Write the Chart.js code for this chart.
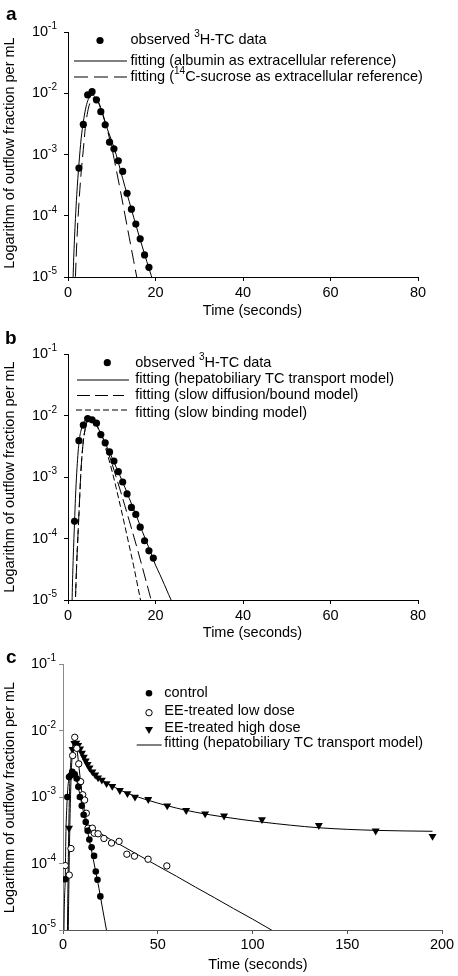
<!DOCTYPE html>
<html><head><meta charset="utf-8">
<script src="https://cdn.jsdelivr.net/npm/chart.js@4.4.0/dist/chart.umd.min.js"></script>
<style>
html,body{margin:0;padding:0;background:#fff;width:458px;height:976px;overflow:hidden}
canvas{position:absolute;left:0}
</style></head><body>
<canvas id="ca" width="458" height="320" style="top:0px"></canvas>
<canvas id="cb" width="458" height="320" style="top:320px"></canvas>
<canvas id="cc" width="458" height="336" style="top:640px"></canvas>
<script>
const FONT = "'Liberation Sans', Arial, Helvetica, sans-serif";
const TXT = 14.5;

// ---------- shared axes ----------
const xTicksAB = [0, 20, 40, 60, 80];
const xTicksC = [0, 50, 100, 150, 200];
const yTicks = [1e-5, 1e-4, 1e-3, 1e-2, 1e-1];
const yTickBase = '10';
const yTickExps = ['-5', '-4', '-3', '-2', '-1'];
const xTitle = 'Time (seconds)';
const yTitle = 'Logarithm of outflow fraction per mL';

// ---------- panel a ----------
const obsTimeA = [2.5, 3.5, 4.5, 5.5, 6.5, 7.5, 8.5, 9.5, 10.5, 11.5, 12.5, 13.5, 14.5, 15.5, 16.5, 17.5, 18.5];
const obsValA = [6.0e-4, 3.1e-3, 9.4e-3, 1.06e-2, 7.8e-3, 5.0e-3, 3.05e-3, 1.59e-3, 1.24e-3, 7.9e-4, 5.3e-4, 2.33e-4, 1.28e-4, 7.3e-5, 4.2e-5, 2.29e-5, 1.44e-5];
const fitTimeA = [1.0, 1.2, 1.5, 1.7, 2.0, 2.5, 3.0, 3.5, 4.0, 4.5, 5.0, 5.5, 6.0, 6.5, 7.0, 7.5, 8.0, 8.5, 9, 10, 11, 12, 13, 14, 15, 16, 17, 18, 19, 20];
const fitAlbuminA = [3e-6, 1.2e-5, 4.5e-5, 9e-5, 2.2e-4, 7e-4, 1.8e-3, 3.4e-3, 5.5e-3, 7.5e-3, 8.8e-3, 9.3e-3, 9.0e-3, 8.2e-3, 6.9e-3, 5.5e-3, 4.3e-3, 3.3e-3, 2.6e-3, 1.66e-3, 1.0e-3, 5.5e-4, 3.0e-4, 1.7e-4, 9.5e-5, 5.4e-5, 3.1e-5, 1.8e-5, 1.07e-5, 6.3e-6];
const fitSucroseA = [5e-7, 1e-6, 4e-6, 1e-5, 3.5e-5, 1.6e-4, 5.0e-4, 1.2e-3, 2.9e-3, 5.0e-3, 6.9e-3, 8.1e-3, 8.5e-3, 8.1e-3, 7.1e-3, 5.8e-3, 4.5e-3, 3.4e-3, 2.5e-3, 1.3e-3, 5.8e-4, 2.5e-4, 1.05e-4, 4.4e-5, 1.85e-5, 7.8e-6, 3.2e-6, 1.3e-6, 5e-7, 2e-7];

// ---------- panel b ----------
const obsTimeB = [1.5, 2.5, 3.5, 4.5, 5.5, 6.5, 7.5, 8.5, 9.5, 10.5, 11.5, 12.5, 13.5, 14.5, 15.5, 16.5, 17.5, 18.5, 19.5];
const obsValB = [1.9e-4, 3.9e-3, 7.0e-3, 8.9e-3, 8.5e-3, 7.5e-3, 4.9e-3, 3.6e-3, 2.56e-3, 1.82e-3, 1.22e-3, 8.3e-4, 5.3e-4, 3.2e-4, 2.46e-4, 1.53e-4, 9.2e-5, 6.3e-5, 4.8e-5];
const fitTimeB = [0.8, 1.0, 1.2, 1.5, 1.7, 2.0, 2.5, 3.0, 3.5, 4.0, 4.5, 5.0, 5.5, 6.0, 6.5, 7.0, 7.5, 8, 9, 10, 11, 12, 13, 14, 15, 16, 17, 18, 19, 20, 21, 22, 23, 24];
const fitTransportB = [3e-6, 1.6e-5, 5e-5, 1.9e-4, 4.5e-4, 1.2e-3, 3.6e-3, 5.8e-3, 7.4e-3, 8.5e-3, 9.0e-3, 9.0e-3, 8.6e-3, 7.9e-3, 7.0e-3, 6.0e-3, 5.1e-3, 4.3e-3, 3.0e-3, 2.1e-3, 1.45e-3, 1.0e-3, 6.8e-4, 4.5e-4, 3.0e-4, 2.0e-4, 1.3e-4, 8.6e-5, 5.7e-5, 3.7e-5, 2.6e-5, 1.8e-5, 1.23e-5, 8.5e-6];
const fitDiffusionB = [1e-7, 2e-7, 6e-7, 3e-6, 1e-5, 4e-5, 2.5e-4, 1.4e-3, 3.8e-3, 6.4e-3, 8.3e-3, 9.1e-3, 9.0e-3, 8.4e-3, 7.4e-3, 6.3e-3, 5.2e-3, 4.2e-3, 2.7e-3, 1.7e-3, 1.0e-3, 5.9e-4, 3.4e-4, 1.95e-4, 1.1e-4, 6.2e-5, 3.4e-5, 1.85e-5, 1.0e-5, 5.4e-6, 2.9e-6, 1.5e-6, 8e-7, 4e-7];
const fitBindingB = [1e-7, 2e-7, 6e-7, 3e-6, 1e-5, 4e-5, 2.5e-4, 1.4e-3, 3.8e-3, 6.4e-3, 8.3e-3, 9.0e-3, 8.8e-3, 8.1e-3, 7.1e-3, 6.0e-3, 4.9e-3, 3.9e-3, 2.35e-3, 1.3e-3, 6.7e-4, 3.3e-4, 1.6e-4, 7.6e-5, 3.6e-5, 1.6e-5, 7e-6, 3e-6, 1.3e-6, 6e-7, 3e-7, 1.5e-7, 7e-8, 3e-8];

// ---------- panel c ----------
const controlTime = [1.2, 2.3, 3.2, 4.0, 4.9, 6.2, 7.2, 8.1, 8.9, 9.9, 10.9, 12, 13, 13.9, 15.1, 16.4, 17.3, 18.2, 19.7];
const controlVal = [5.8e-5, 1.0e-3, 2.0e-3, 2.1e-3, 2.4e-3, 2.2e-3, 1.9e-3, 1.42e-3, 1.0e-3, 7.4e-4, 5.4e-4, 4.2e-4, 3.1e-4, 2.3e-4, 1.75e-4, 1.3e-4, 7.6e-5, 5.7e-5, 3.2e-5];
const lowTime = [1.2, 3.3, 4.2, 5.1, 6.2, 7.3, 8.3, 9.3, 10.4, 11.4, 12.3, 13.2, 14.5, 15.5, 16.5, 18.5, 21.6, 25.6, 29.6, 33.7, 37.7, 44.9, 54.8];
const lowVal = [9.3e-5, 6.7e-5, 1.68e-4, 4.2e-3, 7.9e-3, 5.4e-3, 3.15e-3, 1.7e-3, 1.08e-3, 9.0e-4, 5.7e-4, 3.4e-4, 3.2e-4, 3.4e-4, 2.85e-4, 2.8e-4, 2.38e-4, 2.03e-4, 2.15e-4, 1.38e-4, 1.29e-4, 1.16e-4, 9.2e-5];
const highTime = [3.2, 5, 6, 7, 8, 9, 10, 11, 12, 13, 14, 15.5, 17, 18.5, 20.5, 23, 26, 30, 34, 38, 45, 55, 65, 75, 85, 105, 135, 165, 195];
const highVal = [3.4e-4, 5.2e-3, 6.4e-3, 6.5e-3, 6.0e-3, 5.3e-3, 4.6e-3, 4.0e-3, 3.5e-3, 3.1e-3, 2.75e-3, 2.4e-3, 2.15e-3, 1.95e-3, 1.8e-3, 1.6e-3, 1.45e-3, 1.26e-3, 1.13e-3, 1.0e-3, 9.2e-4, 7.4e-4, 6.3e-4, 5.6e-4, 5.2e-4, 4.6e-4, 3.75e-4, 3.1e-4, 2.57e-4];
const fitControlTime = [0.3, 0.5, 0.8, 1.2, 1.5, 2.0, 2.5, 3, 4, 5, 6, 7, 8, 9, 10, 11, 12, 13, 14, 15, 16, 17, 18, 19, 20, 21, 22, 23, 24];
const fitControlVal = [2e-6, 1e-5, 3e-5, 6e-5, 2.5e-4, 7e-4, 1.3e-3, 1.8e-3, 2.3e-3, 2.4e-3, 2.2e-3, 1.85e-3, 1.42e-3, 1.05e-3, 7.6e-4, 5.6e-4, 4.1e-4, 3.0e-4, 2.2e-4, 1.6e-4, 1.15e-4, 8.2e-5, 5.9e-5, 4.2e-5, 2.9e-5, 2.0e-5, 1.4e-5, 9.7e-6, 6.8e-6];
const fitLowTime = [2.5, 2.8, 3.0, 3.5, 4, 4.5, 5, 5.5, 6, 6.5, 7, 7.5, 8, 9, 10, 11, 12, 13, 14, 15, 16, 20, 25, 30, 40, 50, 60, 70, 80, 90, 100, 110, 115];
const fitLowVal = [1e-6, 1e-5, 3e-5, 2.5e-4, 1.1e-3, 2.8e-3, 4.8e-3, 6.5e-3, 7.4e-3, 7.1e-3, 6.1e-3, 4.9e-3, 3.7e-3, 2.0e-3, 1.15e-3, 7.2e-4, 5.0e-4, 3.9e-4, 3.4e-4, 3.25e-4, 3.15e-4, 2.8e-4, 2.3e-4, 1.93e-4, 1.33e-4, 9.2e-5, 6.4e-5, 4.4e-5, 3.05e-5, 2.1e-5, 1.46e-5, 1.0e-5, 8.3e-6];
const fitHighTime = [2.0, 2.5, 3.0, 3.5, 4, 5, 6, 7, 8, 9, 10, 12, 14, 16, 18, 20, 25, 30, 35, 40, 50, 60, 70, 85, 105, 135, 165, 195];
const fitHighVal = [1e-6, 2.5e-5, 2.8e-4, 1.4e-3, 3.0e-3, 5.5e-3, 6.5e-3, 6.4e-3, 5.9e-3, 5.2e-3, 4.6e-3, 3.6e-3, 2.8e-3, 2.3e-3, 2.0e-3, 1.83e-3, 1.52e-3, 1.28e-3, 1.11e-3, 9.9e-4, 8.1e-4, 6.8e-4, 5.9e-4, 5.0e-4, 4.2e-4, 3.45e-4, 3.15e-4, 3.05e-4];

// ---------- helpers ----------
const pts = (xs, ys) => xs.map((x, i) => ({x: x, y: ys[i]}));
function lineDs(xs, ys, dash) {
  return {type: 'line', data: pts(xs, ys), borderColor: '#000', borderWidth: 1, borderDash: dash || [],
    pointRadius: 0, fill: false, cubicInterpolationMode: 'monotone', order: 2};
}
function markDs(xs, ys, style) {
  return {type: 'line', data: pts(xs, ys), showLine: false, order: 1,
    pointRadius: style.r, pointHoverRadius: style.r, pointStyle: style.shape || 'circle',
    pointRotation: style.rot || 0, pointBackgroundColor: style.fill, pointBorderColor: '#000',
    pointBorderWidth: style.bw || 0};
}
function drawRich(ctx, str, x, y, size, align) {
  const parts = [];
  const re = /\^\{([^}]*)\}/g; let last = 0, m;
  while ((m = re.exec(str))) { if (m.index > last) parts.push([str.slice(last, m.index), false]); parts.push([m[1], true]); last = re.lastIndex; }
  if (last < str.length) parts.push([str.slice(last), false]);
  const supSize = Math.round(size * 0.68);
  let total = 0;
  parts.forEach(p => { ctx.font = (p[1] ? supSize : size) + 'px ' + FONT; total += ctx.measureText(p[0]).width; });
  let cx = align === 'right' ? x - total : x;
  ctx.textAlign = 'left'; ctx.textBaseline = 'middle'; ctx.fillStyle = '#000';
  parts.forEach(p => {
    ctx.font = (p[1] ? supSize : size) + 'px ' + FONT;
    ctx.fillText(p[0], cx, p[1] ? y - size * 0.38 : y);
    cx += ctx.measureText(p[0]).width;
  });
}
function drawMarker(ctx, kind, x, y) {
  ctx.save(); ctx.fillStyle = '#000'; ctx.strokeStyle = '#000'; ctx.lineWidth = 1;
  if (kind === 'dot') { ctx.beginPath(); ctx.arc(x, y, 3.6, 0, Math.PI * 2); ctx.fill(); }
  else if (kind === 'dotc') { ctx.beginPath(); ctx.arc(x, y, 3.3, 0, Math.PI * 2); ctx.fill(); }
  else if (kind === 'open') { ctx.beginPath(); ctx.arc(x, y, 3.2, 0, Math.PI * 2); ctx.fillStyle = '#fff'; ctx.fill(); ctx.stroke(); }
  else if (kind === 'tri') { const r = 4.6; ctx.beginPath();
    for (let k = 0; k < 3; k++) { const a = Math.PI + k * 2 * Math.PI / 3; const px = x + Math.sin(a) * r, py = y - Math.cos(a) * r; k ? ctx.lineTo(px, py) : ctx.moveTo(px, py); }
    ctx.closePath(); ctx.fill(); }
  ctx.restore();
}

function makePanel(id, P) {
  const cv = document.getElementById(id);
  const W = cv.width, H = cv.height;
  const deco = {
    id: 'deco',
    afterDraw(chart) {
      const ctx = chart.ctx; const ys = chart.scales.y; const ca = chart.chartArea;
      ctx.save();
      ys.ticks.forEach(t => {
        const py = ys.getPixelForValue(t.value);
        drawRich(ctx, yTickBase + '^{' + yTickExps[yTicks.indexOf(t.value)] + '}', ca.left - P.yLabGap, py, TXT, 'right');
      });
      ctx.font = 'bold 19px ' + FONT; ctx.textAlign = 'left'; ctx.textBaseline = 'alphabetic'; ctx.fillStyle = '#000';
      ctx.fillText(P.letter, P.letterPos[0], P.letterPos[1]);
      ctx.font = TXT + 'px ' + FONT; ctx.textAlign = 'center'; ctx.textBaseline = 'middle';
      ctx.fillText(xTitle, P.xTitlePos[0], P.xTitlePos[1]);
      ctx.save(); ctx.translate(P.yTitlePos[0], P.yTitlePos[1]); ctx.rotate(-Math.PI / 2);
      ctx.fillText(yTitle, 0, 0); ctx.restore();
      P.legend.forEach(it => {
        if (it.marker) drawMarker(ctx, it.marker, it.mx, it.my);
        if (it.line) { ctx.save(); ctx.strokeStyle = '#000'; ctx.lineWidth = 1; ctx.setLineDash(it.dash || []);
          ctx.beginPath(); ctx.moveTo(it.line[0], it.line[2]); ctx.lineTo(it.line[1], it.line[2]); ctx.stroke(); ctx.restore(); }
        drawRich(ctx, it.text, it.tx, it.ty, TXT, 'left');
      });
      ctx.restore();
    }
  };
  return new Chart(cv, {
    type: 'line',
    data: {datasets: P.datasets},
    options: {
      responsive: false, animation: false, events: [],
      layout: {padding: {left: 0, right: W - P.area.right, top: P.area.top, bottom: 0}},
      plugins: {legend: {display: false}, tooltip: {enabled: false}},
      scales: {
        x: {type: 'linear', min: 0, max: P.xMax,
          afterBuildTicks: s => { s.ticks = P.xTicks.map(v => ({value: v})); },
          afterFit: s => { s.height = H - P.area.bottom; },
          grid: {display: true, drawOnChartArea: false, drawTicks: true, tickLength: 4, color: P.xColor, tickColor: P.xColor, lineWidth: 1},
          border: {display: true, color: P.xColor, width: 1},
          ticks: {font: {family: FONT, size: TXT}, color: '#000', padding: P.xTickPad, maxRotation: 0, autoSkip: false}
        },
        y: {type: 'logarithmic', min: 1e-5, max: 1e-1,
          afterBuildTicks: s => { s.ticks = yTicks.map(v => ({value: v})); },
          afterFit: s => { s.width = P.area.left; },
          grid: {display: true, drawOnChartArea: false, drawTicks: true, tickLength: 4, color: P.yColor, tickColor: P.yColor, lineWidth: 1},
          border: {display: true, color: P.yColor, width: 1},
          ticks: {display: false}
        }
      }
    },
    plugins: [deco]
  });
}

const dotAB = {r: 3.6, fill: '#000'};
makePanel('ca', {
  area: {left: 68, right: 418, top: 32, bottom: 277},
  xMax: 80, xTicks: xTicksAB, xColor: '#000', yColor: '#000', xTickPad: 3, yLabGap: 11,
  letter: 'a', letterPos: [6, 20], xTitlePos: [252.5, 311], yTitlePos: [9.5, 153],
  legend: [
    {marker: 'dot', mx: 100, my: 40.5, tx: 130.5, ty: 40, text: 'observed ^{3}H-TC data'},
    {line: [74, 127, 61], tx: 130.5, ty: 61, text: 'fitting (albumin as extracellular reference)'},
    {line: [74, 127, 77], dash: [14, 6], tx: 130.5, ty: 77, text: 'fitting (^{14}C-sucrose as extracellular reference)'}
  ],
  datasets: [
    markDs(obsTimeA, obsValA, dotAB),
    lineDs(fitTimeA, fitAlbuminA),
    lineDs(fitTimeA, fitSucroseA, [14, 6])
  ]
});
makePanel('cb', {
  area: {left: 68, right: 418, top: 34, bottom: 280},
  xMax: 80, xTicks: xTicksAB, xColor: '#000', yColor: '#000', xTickPad: 3, yLabGap: 11,
  letter: 'b', letterPos: [5, 24], xTitlePos: [252.5, 313], yTitlePos: [9.5, 157],
  legend: [
    {marker: 'dot', mx: 107.3, my: 42.7, tx: 135.3, ty: 42.7, text: 'observed ^{3}H-TC data'},
    {line: [77, 129, 60], tx: 135.3, ty: 58.7, text: 'fitting (hepatobiliary TC transport model)'},
    {line: [77, 124, 75.5], dash: [13, 5], tx: 135.3, ty: 75.3, text: 'fitting (slow diffusion/bound model)'},
    {line: [76, 128, 90], dash: [6, 3], tx: 135.3, ty: 93.3, text: 'fitting (slow binding model)'}
  ],
  datasets: [
    markDs(obsTimeB, obsValB, dotAB),
    lineDs(fitTimeB, fitTransportB),
    lineDs(fitTimeB, fitDiffusionB, [13, 5]),
    lineDs(fitTimeB, fitBindingB, [6, 3])
  ]
});
makePanel('cc', {
  area: {left: 63, right: 442, top: 24, bottom: 290},
  xMax: 200, xTicks: xTicksC, xColor: '#555', yColor: '#8a8a8a', xTickPad: 2, yLabGap: 7,
  letter: 'c', letterPos: [6, 23], xTitlePos: [258, 325], yTitlePos: [9.5, 157.5],
  legend: [
    {marker: 'dotc', mx: 149, my: 53.3, tx: 164.3, ty: 52.7, text: 'control'},
    {marker: 'open', mx: 149, my: 72.7, tx: 164.3, ty: 70.7, text: 'EE-treated low dose'},
    {marker: 'tri', mx: 149, my: 89.3, tx: 164.3, ty: 88, text: 'EE-treated high dose'},
    {line: [136.7, 161.7, 105], tx: 164.3, ty: 102.7, text: 'fitting (hepatobiliary TC transport model)'}
  ],
  datasets: [
    markDs(controlTime, controlVal, {r: 3.3, fill: '#000'}),
    markDs(lowTime, lowVal, {r: 3.2, fill: '#fff', bw: 1}),
    markDs(highTime, highVal, {r: 4.6, fill: '#000', shape: 'triangle', rot: 180}),
    lineDs(fitControlTime, fitControlVal),
    lineDs(fitLowTime, fitLowVal),
    lineDs(fitHighTime, fitHighVal)
  ]
});
</script>
</body></html>
